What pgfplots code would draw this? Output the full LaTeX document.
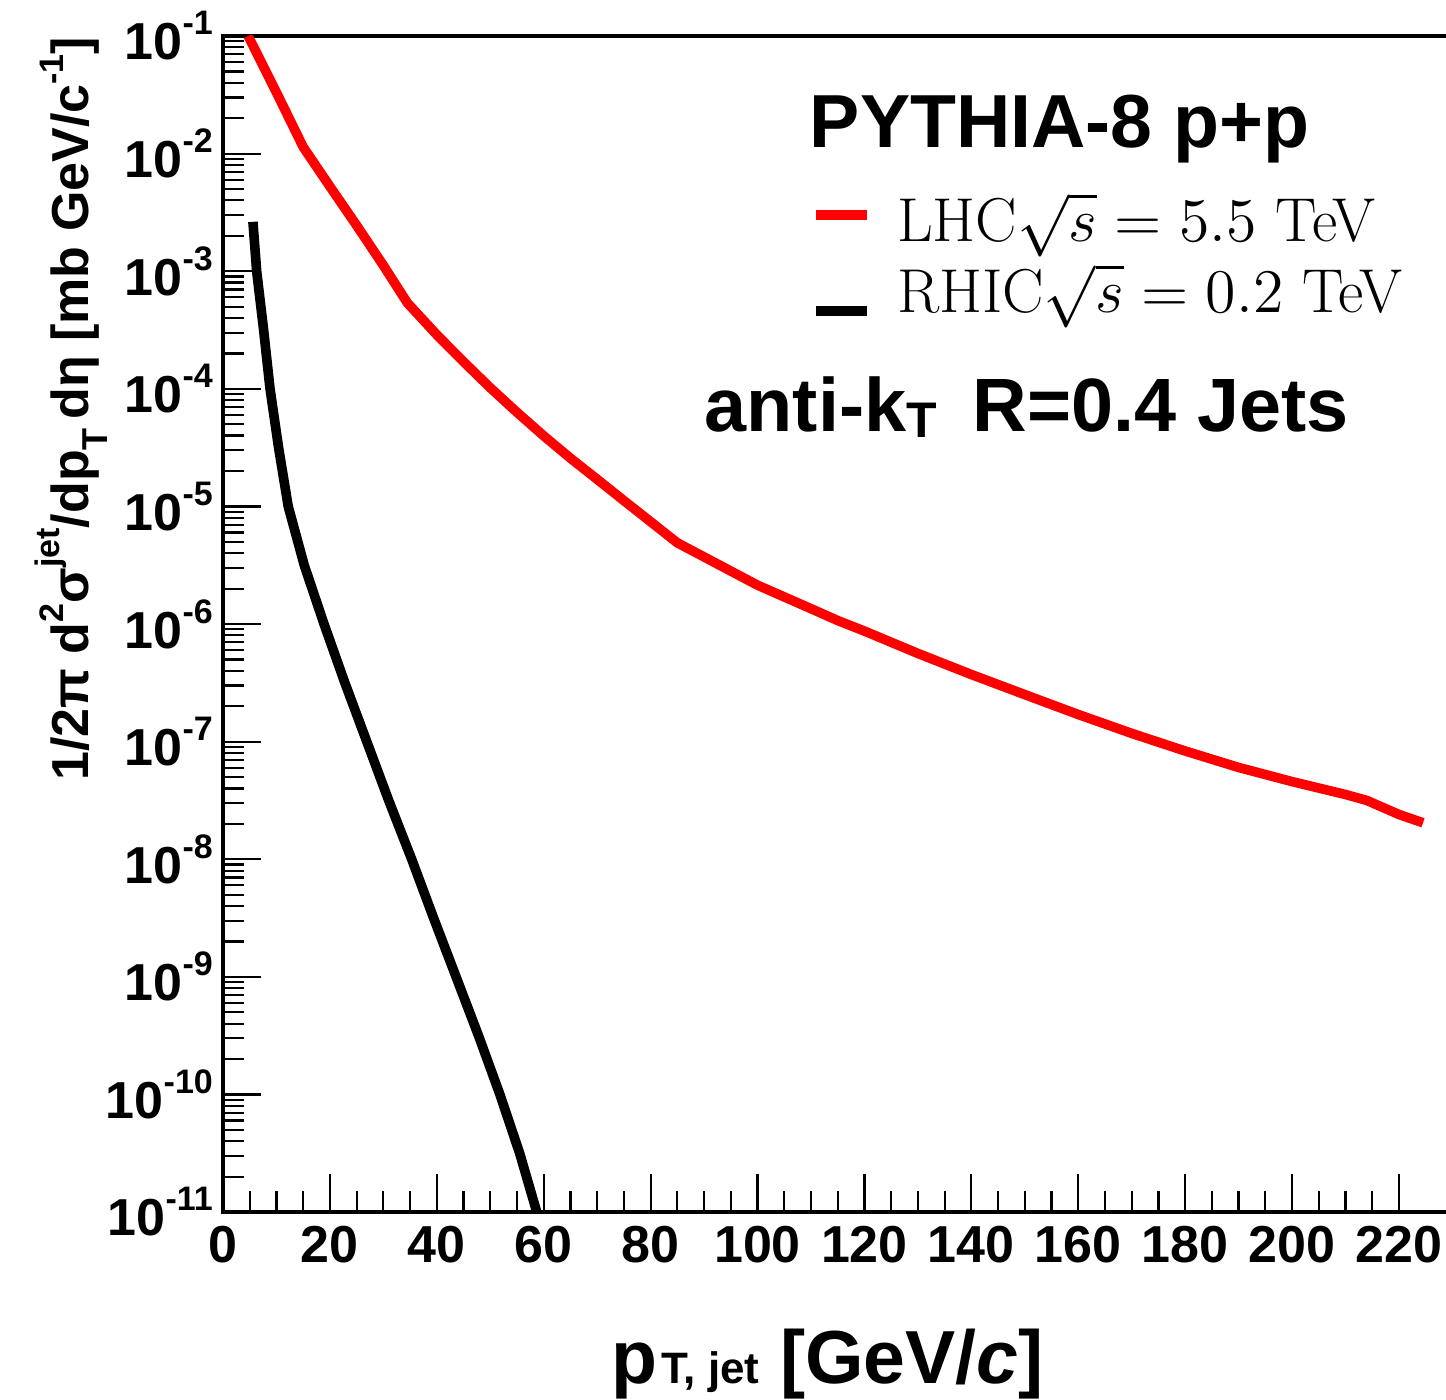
\RequirePackage{fix-cm}
\documentclass[border=0pt]{standalone}
\usepackage{pgfplots}
\pgfplotsset{compat=1.18}
\usepackage{fontspec}
\newfontfamily\hv{Liberation Sans}
\newcommand\hvb{\hv\bfseries}
% raised / lowered small text in the ROOT-like labels
\newcommand\up[2][0.48em]{\raisebox{#1}{\fontsize{8.5}{8.5}\selectfont #2}}
\newcommand\dn[2][-0.38em]{\raisebox{#1}{\fontsize{9}{9}\selectfont #2}}

\begin{document}
\begin{tikzpicture}
\begin{axis}[
  at={(0,0)}, anchor=south west,
  scale only axis, width=307.35pt, height=294pt,
  xmin=0, xmax=230,
  ymode=log, ymin=1e-11, ymax=1e-1,
  axis line style={line width=0.8pt},
  tick align=inside, xtick pos=lower, ytick pos=left,
  major tick length=9.5pt, minor tick length=5.25pt,
  every tick/.style={black, line width=0.55pt},
  xtick={0,20,...,220}, minor x tick num=3,
  xticklabels={0,20,40,60,80,100,120,140,160,180,200,220},
  ytick={1e-11,1e-10,1e-9,1e-8,1e-7,1e-6,1e-5,1e-4,1e-3,1e-2,1e-1},
  yticklabels={10\up{-11},10\up{-10},10\up{-9},10\up{-8},10\up{-7},10\up{-6},
               10\up{-5},10\up{-4},10\up{-3},10\up{-2},10\up{-1}},
  ticklabel style={font=\hvb\fontsize{13}{13}\selectfont},
  yticklabel style={xshift=1pt},
  xlabel={p\hspace{1pt}{\fontsize{11}{11}\selectfont T, jet} [GeV/\textit{c}]},
  xlabel style={at={(axis description cs:0.3156,-0.1454)}, anchor=base west,
                inner sep=0pt, font=\hvb\fontsize{18.8}{18.8}\selectfont},
  ylabel={1/2π d\up{2}σ\up[0.55em]{jet}/dp\dn{T}\,dη [mb GeV/c\up{-1}]},
  ylabel style={at={(axis description cs:-0.1098,1)}, anchor=base east,
                inner sep=0pt, font=\hvb\fontsize{13}{13}\selectfont},
  legend style={at={(rel axis cs:0.4774,0.8665)}, anchor=north west,
                draw=none, fill=none, inner sep=0pt, row sep=0pt,
                column sep=6.25pt,
                nodes={inner sep=0pt, text height=12pt, text depth=5.75pt},
                cells={anchor=base west},
                font=\fontsize{15.5}{17.75}\selectfont},
]

% LHC, sqrt(s) = 5.5 TeV
\addplot[red, line width=2.4pt, line join=round,
  legend image code/.code={\draw[red, line width=2.6pt] (0pt,6.75pt) -- (12.75pt,6.75pt);}]
  table[row sep=\\] {
  x y \\
  4.7 1.0e-1 \\
  10 3.31e-2 \\
  15 1.138e-2 \\
  20 5.25e-3 \\
  25 2.45e-3 \\
  30 1.12e-3 \\
  34.5 5.37e-4 \\
  40 2.88e-4 \\
  45 1.70e-4 \\
  50 1.02e-4 \\
  55 6.31e-5 \\
  60 3.98e-5 \\
  65 2.57e-5 \\
  70 1.70e-5 \\
  75 1.12e-5 \\
  80 7.41e-6 \\
  85 4.90e-6 \\
  90 3.72e-6 \\
  95 2.82e-6 \\
  100 2.14e-6 \\
  105 1.70e-6 \\
  110 1.35e-6 \\
  115 1.07e-6 \\
  120 8.71e-7 \\
  130 5.62e-7 \\
  140 3.72e-7 \\
  150 2.51e-7 \\
  160 1.70e-7 \\
  170 1.175e-7 \\
  180 8.32e-8 \\
  190 6.03e-8 \\
  200 4.57e-8 \\
  210 3.55e-8 \\
  214 3.16e-8 \\
  220 2.40e-8 \\
  224.5 2.04e-8 \\
};
\addlegendentry{LHC$\sqrt{s} = 5.5$ TeV}

% RHIC, sqrt(s) = 0.2 TeV
\addplot[black, line width=2.4pt, line join=round,
  legend image code/.code={\draw[black, line width=2.6pt] (0pt,0.5pt) -- (12.75pt,0.5pt);}]
  table[row sep=\\] {
  x y \\
  5.6 2.63e-3 \\
  6.3 1.0e-3 \\
  7.6 3.16e-4 \\
  8.8 1.0e-4 \\
  10.4 3.16e-5 \\
  12.2 1.0e-5 \\
  15.2 3.16e-6 \\
  18.9 1.0e-6 \\
  22.8 3.16e-7 \\
  26.9 1.0e-7 \\
  31.0 3.16e-8 \\
  35.3 1.0e-8 \\
  39.4 3.16e-9 \\
  43.6 1.0e-9 \\
  47.8 3.16e-10 \\
  51.8 1.0e-10 \\
  55.5 3.16e-11 \\
  58.7 1.0e-11 \\
  59.5 6.5e-12 \\
};
\addlegendentry{RHIC$\sqrt{s} = 0.2$ TeV}

\node[anchor=base west, inner sep=0pt, font=\hvb\fontsize{18.8}{18.8}\selectfont]
  at (rel axis cs:0.4767,0.9056) {PYTHIA-8 p+p};
\node[anchor=base west, inner sep=0pt, font=\hvb\fontsize{18.9}{18.9}\selectfont]
  at (rel axis cs:0.3912,0.6633)
  {anti-k{\raisebox{-1.5pt}{\fontsize{12.5}{12.5}\selectfont T}}\hspace{9pt}R=0.4 Jets};
\end{axis}
\pgfresetboundingbox
\path[use as bounding box] (-55.75pt,-47pt) rectangle (305.75pt,303pt);
\end{tikzpicture}
\end{document}
